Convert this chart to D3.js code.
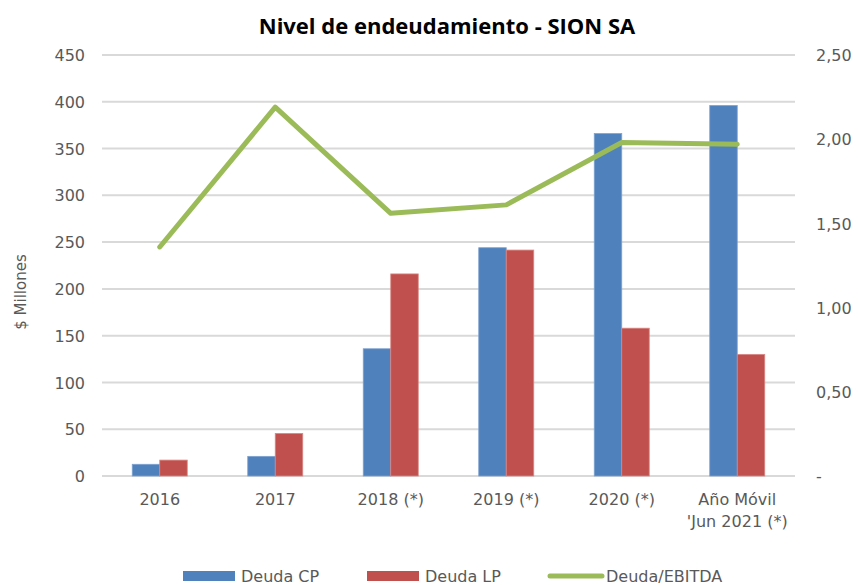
<!DOCTYPE html>
<meta charset="utf-8">
<style>
body { margin: 0; background: #fff; }
.grid line { stroke: #d9d9d9; stroke-width: 2; }
.axis text { font-family: "DejaVu Sans", sans-serif; font-size: 16px; fill: #595959; }
.title { font-family: "Open Sans", sans-serif; font-weight: bold; font-size: 22px; fill: #000; }
.legend text { font-family: "DejaVu Sans", sans-serif; font-size: 16px; fill: #595959; }
</style>
<body></body>
<script src="https://cdn.jsdelivr.net/npm/d3@7"></script>
<script>
// data
var categories = ["2016", "2017", "2018 (*)", "2019 (*)", "2020 (*)", "Año Móvil\n'Jun 2021 (*)"];
var deudaCP = [12.5, 21, 136, 244, 366, 396];
var deudaLP = [17, 45.5, 216, 241.5, 158, 130];
var deudaEbitda = [1.36, 2.19, 1.56, 1.61, 1.98, 1.97];
var leftTicks = [0, 50, 100, 150, 200, 250, 300, 350, 400, 450];
var rightTicks = [0, 0.5, 1, 1.5, 2, 2.5];

var width = 858, height = 585;
var margin = {top: 55, right: 63, bottom: 109, left: 102};

var svg = d3.select("body").append("svg")
    .attr("width", width)
    .attr("height", height);

var x = d3.scaleBand()
    .domain(categories)
    .range([margin.left, width - margin.right]);

var y = d3.scaleLinear()
    .domain([0, 450])
    .range([height - margin.bottom, margin.top]);

var y2 = d3.scaleLinear()
    .domain([0, 2.5])
    .range([height - margin.bottom, margin.top]);

// gridlines
svg.append("g")
    .attr("class", "grid")
    .selectAll("line")
    .data(leftTicks)
    .enter().append("line")
    .attr("x1", margin.left)
    .attr("x2", width - margin.right)
    .attr("y1", function(d) { return y(d); })
    .attr("y2", function(d) { return y(d); });

// bars
var barW = 27.5;
var series = [
    {name: "Deuda CP", values: deudaCP, color: "#4f81bd", stroke: "#7da1cf", off: -barW},
    {name: "Deuda LP", values: deudaLP, color: "#c0504d", stroke: "#d98886", off: 0}
];

series.forEach(function(s) {
    svg.append("g")
        .selectAll("rect")
        .data(s.values)
        .enter().append("rect")
        .attr("x", function(d, i) { return x(categories[i]) + x.bandwidth() / 2 + s.off; })
        .attr("y", function(d) { return y(d); })
        .attr("width", barW)
        .attr("height", function(d) { return y(0) - y(d); })
        .attr("fill", s.color)
        .attr("stroke", s.stroke)
        .attr("stroke-width", 0.8);
});

// line
var line = d3.line()
    .x(function(d, i) { return x(categories[i]) + x.bandwidth() / 2; })
    .y(function(d) { return y2(d); });

svg.append("path")
    .datum(deudaEbitda)
    .attr("d", line)
    .attr("fill", "none")
    .attr("stroke", "#9bbb59")
    .attr("stroke-width", 5)
    .attr("stroke-linecap", "round")
    .attr("stroke-linejoin", "round");

// left axis
var yAxis = svg.append("g")
    .attr("class", "axis")
    .attr("transform", "translate(" + (margin.left - 17) + ",0)")
    .call(d3.axisLeft(y).tickValues(leftTicks).tickSize(0).tickPadding(0));
yAxis.select(".domain").remove();
yAxis.selectAll("text").attr("dy", "0.35em");

// right axis
var fmt = function(d) { return d === 0 ? "-" : d3.format(".2f")(d).replace(".", ","); };
var y2Axis = svg.append("g")
    .attr("class", "axis")
    .attr("transform", "translate(" + (width - margin.right + 21) + ",0)")
    .call(d3.axisRight(y2).tickValues(rightTicks).tickFormat(fmt).tickSize(0).tickPadding(0));
y2Axis.select(".domain").remove();
y2Axis.selectAll("text").attr("dy", "0.35em");

// x axis labels
var xAxis = svg.append("g")
    .attr("class", "axis")
    .attr("transform", "translate(0," + (height - margin.bottom) + ")")
    .call(d3.axisBottom(x).tickSize(0).tickPadding(0));
xAxis.select(".domain").remove();
xAxis.selectAll("text").each(function(d) {
    var t = d3.select(this).text("").attr("y", 29).attr("dy", null);
    d.split("\n").forEach(function(part, j) {
        t.append("tspan")
            .attr("x", 0)
            .attr("y", 29 + j * 22)
            .text(part);
    });
});

// y axis title
svg.append("text")
    .attr("transform", "translate(26," + 292 + ") rotate(-90)")
    .attr("text-anchor", "middle")
    .style("font-family", "DejaVu Sans, sans-serif")
    .style("font-size", "15px")
    .style("fill", "#595959")
    .text("$ Millones");

// title
svg.append("text")
    .attr("class", "title")
    .attr("x", 447)
    .attr("y", 34)
    .attr("text-anchor", "middle")
    .text("Nivel de endeudamiento - SION SA");

// legend
var legend = svg.append("g").attr("class", "legend");
var legendItems = [
    {name: "Deuda CP", color: "#4f81bd", type: "rect", x: 183},
    {name: "Deuda LP", color: "#c0504d", type: "rect", x: 367},
    {name: "Deuda/EBITDA", color: "#9bbb59", type: "line", x: 548}
];
legendItems.forEach(function(it) {
    if (it.type === "rect") {
        legend.append("rect")
            .attr("x", it.x).attr("y", 571)
            .attr("width", 52).attr("height", 10)
            .attr("fill", it.color);
    } else {
        legend.append("line")
            .attr("x1", it.x + 2).attr("x2", it.x + 54)
            .attr("y1", 576).attr("y2", 576)
            .attr("stroke", it.color).attr("stroke-width", 5)
            .attr("stroke-linecap", "round");
    }
    legend.append("text")
        .attr("x", it.x + 58)
        .attr("y", 582)
        .text(it.name);
});
</script>
